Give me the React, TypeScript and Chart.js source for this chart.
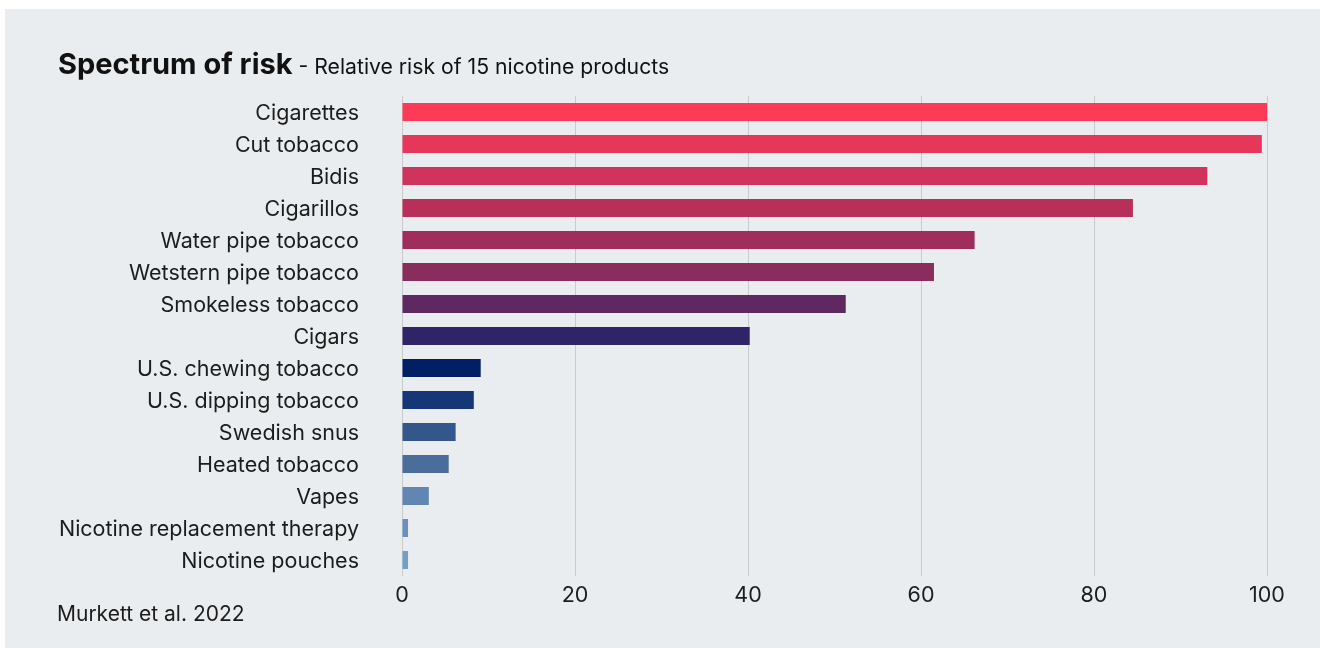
import React, { useEffect, useRef } from "react";
import { Chart, registerables } from "chart.js";

Chart.register(...registerables);

const categories = [
  "Cigarettes",
  "Cut tobacco",
  "Bidis",
  "Cigarillos",
  "Water pipe tobacco",
  "Wetstern pipe tobacco",
  "Smokeless tobacco",
  "Cigars",
  "U.S. chewing tobacco",
  "U.S. dipping tobacco",
  "Swedish snus",
  "Heated tobacco",
  "Vapes",
  "Nicotine replacement therapy",
  "Nicotine pouches",
];

const riskValues = [100, 99.4, 93.1, 84.5, 66.2, 61.5, 51.3, 40.2, 9.1, 8.3, 6.2, 5.4, 3.1, 0.7, 0.7];

const barColors = [
  "#fe3a57",
  "#e6365a",
  "#d0335b",
  "#b83059",
  "#a02d5c",
  "#892d5c",
  "#5e2860",
  "#2f2468",
  "#001f64",
  "#153677",
  "#33578a",
  "#4a6d9b",
  "#6186b3",
  "#6a90bb",
  "#74a0c4",
];

const xMin = 0;
const xMax = 100;
const xStep = 20;

const FONT = "Inter, 'Noto Sans', sans-serif";
const TEXT = "#1c1c1c";

export default function App() {
  const ref = useRef<HTMLCanvasElement>(null);

  useEffect(() => {
    document.body.style.margin = "0";
    const chart = new Chart(ref.current!, {
      type: "bar",
      data: {
        labels: categories,
        datasets: [
          {
            data: riskValues,
            backgroundColor: barColors,
            barPercentage: 0.5625,
            categoryPercentage: 1,
          },
        ],
      },
      options: {
        indexAxis: "y",
        responsive: false,
        animation: false,
        layout: { padding: { top: 96, right: 53, left: 0, bottom: 0 } },
        plugins: {
          legend: { display: false },
          tooltip: { enabled: false },
        },
        scales: {
          x: {
            min: xMin,
            max: xMax,
            ticks: {
              stepSize: xStep,
              padding: 7,
              color: TEXT,
              font: { family: FONT, size: 21.5 },
            },
            grid: { color: "#c9cccd", lineWidth: 1, drawTicks: false },
            border: { display: false },
            afterFit: (s: any) => {
              s.height = 72;
            },
          },
          y: {
            ticks: {
              padding: 43,
              labelOffset: 1.5,
              color: TEXT,
              font: { family: FONT, size: 21.5 },
            },
            grid: { display: false, drawTicks: false },
            border: { display: false },
            afterFit: (s: any) => {
              s.width = 402;
            },
          },
        },
      },
    });
    return () => chart.destroy();
  }, []);

  return (
    <div style={{ position: "relative", width: 1320, height: 648, background: "#ffffff", overflow: "hidden" }}>
      <div style={{ position: "absolute", left: 5, top: 9, width: 1315, height: 639, background: "#e9edef" }} />
      <canvas ref={ref} width={1320} height={648} style={{ position: "absolute", left: 0, top: 0 }} />
      <div
        style={{
          position: "absolute",
          left: 58,
          top: 49,
          fontFamily: FONT,
          lineHeight: "30px",
          color: "#111111",
          whiteSpace: "nowrap",
        }}
      >
        <span style={{ fontWeight: 700, fontSize: 29 }}>Spectrum of risk</span>
        <span style={{ fontSize: 21.2 }}> - Relative risk of 15 nicotine products</span>
      </div>
      <div
        style={{
          position: "absolute",
          left: 57,
          top: 604,
          fontFamily: FONT,
          fontSize: 21,
          lineHeight: "20px",
          color: TEXT,
          whiteSpace: "nowrap",
        }}
      >
        Murkett et al. 2022
      </div>
    </div>
  );
}
